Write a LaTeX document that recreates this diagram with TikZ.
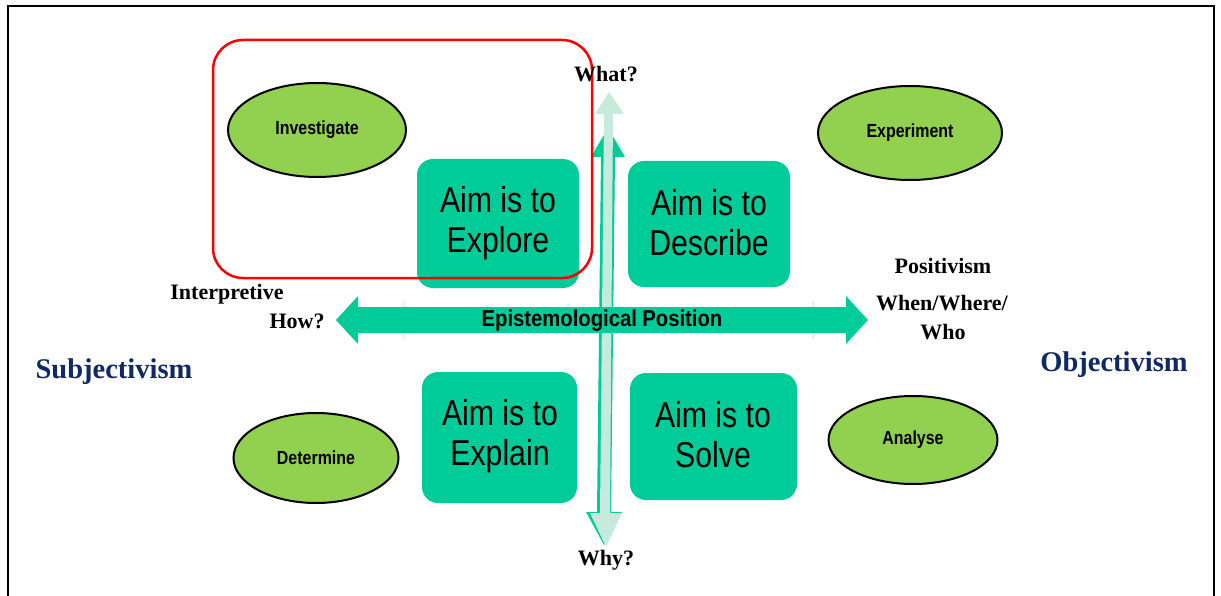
\documentclass[tikz,border=0pt]{standalone}
\usepackage{fontspec}
\setmainfont{Liberation Serif}
\newfontfamily\narrowsans[FakeStretch=0.88]{Liberation Sans}
\newfontfamily\tallsans[FakeStretch=0.84]{Liberation Sans}
\usetikzlibrary{shapes.geometric}
\definecolor{aimgreen}{RGB}{0,204,153}
\definecolor{leafgreen}{RGB}{146,208,80}
\definecolor{palegreen}{RGB}{198,235,220}
\definecolor{faintgreen}{RGB}{228,246,239}
\definecolor{navy}{RGB}{16,40,102}
\begin{document}
\begin{tikzpicture}[x=1pt,y=-1pt,
  aimbox/.style={fill=aimgreen,rounded corners=16pt,draw=none},
  aimtext/.style={font=\tallsans\fontsize{36}{40}\selectfont,align=center,text=black},
  leaf/.style={ellipse,fill=leafgreen,draw=black,line width=2pt,inner sep=0pt,
    font=\tallsans\bfseries\fontsize{19}{20}\selectfont},
  axislabel/.style={font=\bfseries\fontsize{22}{26}\selectfont,text=black,inner sep=0pt},
  sidelabel/.style={font=\bfseries\fontsize{28.5}{32}\selectfont,text=navy,inner sep=0pt}]
\useasboundingbox (0,0) rectangle (1221,596);
\fill[white] (0,0) rectangle (1221,596);

% frame
\draw[line width=2pt] (8,600) -- (8,6) -- (1214,6) -- (1214,600);

% faint arrow behind the horizontal axis
\fill[faintgreen] (395,320) -- (405,298) -- (405,312) -- (812,312) -- (812,298) -- (822,320)
  -- (812,342) -- (812,328) -- (405,328) -- (405,342) -- cycle;

% vertical axis: solid arrow with a pale arrow over it
\fill[aimgreen] (608,128) -- (625,157) -- (615,157) -- (611,512) -- (622,512) -- (604,545)
  -- (586,512) -- (597,512) -- (601,157) -- (591,157) -- cycle;
\fill[palegreen] (609,92) -- (624,114) -- (613,114) -- (610,513) -- (622,513) -- (606,547)
  -- (590,513) -- (600,513) -- (604,114) -- (595,114) -- cycle;

% quadrant boxes
\fill[aimbox] (417,159) rectangle (579,288);
\node[aimtext] (explore) at (498,223) {Aim is to\\Explore};
\fill[aimbox] (628,161) rectangle (790,287);
\node[aimtext] (describe) at (709,223) {Aim is to\\Describe};
\fill[aimbox] (422,372) rectangle (577,503);
\node[aimtext] (explain) at (500,436) {Aim is to\\Explain};
\fill[aimbox] (630,373) rectangle (797,500);
\node[aimtext] (solve) at (713,435) {Aim is to\\Solve};

% horizontal axis
\fill[aimgreen] (336,320) -- (358,296) -- (358,307) -- (846,307) -- (846,296) -- (868,320)
  -- (846,344) -- (846,333) -- (358,333) -- (358,344) -- cycle;
\node[font=\narrowsans\bfseries\fontsize{23}{26}\selectfont,inner sep=0pt] (epi) at (602,321) {Epistemological Position};

% ellipses
\node[leaf,minimum width=178pt,minimum height=94pt] (investigate) at (317,130) {Investigate};
\node[leaf,minimum width=184pt,minimum height=94pt] (experiment) at (910,133) {Experiment};
\node[leaf,minimum width=165pt,minimum height=90pt] (determine) at (316,458) {Determine};
\node[leaf,minimum width=169pt,minimum height=88pt] (analyse) at (913,440) {Analyse};

% highlight
\draw[red,line width=2.5pt,rounded corners=30pt] (213,40) rectangle (592,278);

% axis labels
\node[axislabel] (what) at (606,74) {What?};
\node[axislabel] (why) at (606,560) {Why?};
\node[axislabel] (interp) at (227,294) {Interpretive};
\node[axislabel] (how) at (297,321) {How?};
\node[axislabel] (posit) at (943,266) {Positivism};
\node[axislabel] (www) at (942,303) {When/Where/};
\node[axislabel] (who) at (943,332) {Who};
\node[sidelabel] (subj) at (114,372) {Subjectivism};
\node[sidelabel] (obj) at (1114,365) {Objectivism};
\end{tikzpicture}
\end{document}
